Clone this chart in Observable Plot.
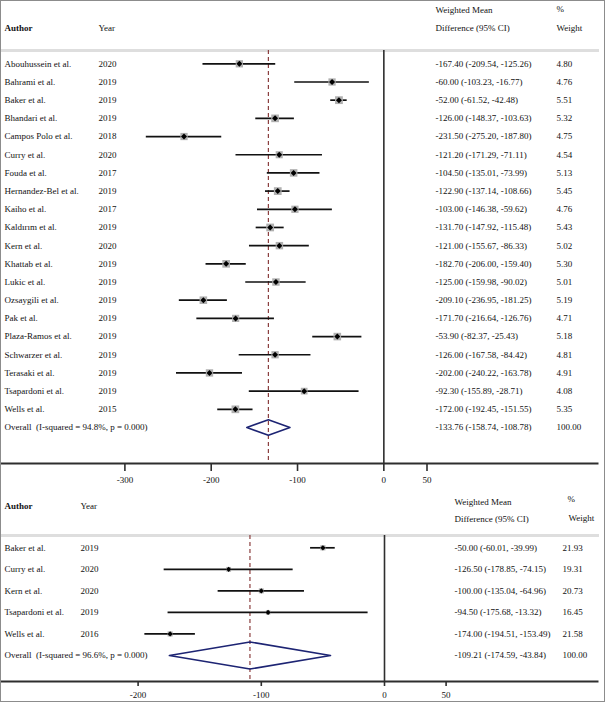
<!DOCTYPE html>
<html><head><meta charset="utf-8">
<script src="https://cdn.jsdelivr.net/npm/d3@7"></script>
<script src="https://cdn.jsdelivr.net/npm/@observablehq/plot@0.6"></script>
<style>
body{margin:0;background:#fff;}
#page{position:relative;width:605px;height:702px;overflow:hidden;background:#fff;}
#panel1,#panel2{position:absolute;left:0;}
#panel1{top:0;} #panel2{top:488px;}
#frame{position:absolute;left:0;top:0;width:605px;height:702px;box-sizing:border-box;border:1px solid #8c8c8c;pointer-events:none;}
</style></head><body>
<div id="page"><div id="panel1"></div><div id="panel2"></div><div id="frame"></div></div>
<script>
// ---- Panel 1 data ----
const authors1 = ["Abouhussein et al.","Bahrami et al.","Baker et al.","Bhandari et al.","Campos Polo et al.","Curry et al.","Fouda et al.","Hernandez-Bel et al.","Kaiho et al.","Kaldırım et al.","Kern et al.","Khattab et al.","Lukic et al.","Ozsaygili et al.","Pak et al.","Plaza-Ramos et al.","Schwarzer et al.","Terasaki et al.","Tsapardoni et al.","Wells et al."];
const years1 = [2020,2019,2019,2019,2018,2020,2017,2019,2017,2019,2020,2019,2019,2019,2019,2019,2019,2019,2019,2015];
const est1 = [-167.40,-60.00,-52.00,-126.00,-231.50,-121.20,-104.50,-122.90,-103.00,-131.70,-121.00,-182.70,-125.00,-209.10,-171.70,-53.90,-126.00,-202.00,-92.30,-172.00];
const lo1 = [-209.54,-103.23,-61.52,-148.37,-275.20,-171.29,-135.01,-137.14,-146.38,-147.92,-155.67,-206.00,-159.98,-236.95,-216.64,-82.37,-167.58,-240.22,-155.89,-192.45];
const hi1 = [-125.26,-16.77,-42.48,-103.63,-187.80,-71.11,-73.99,-108.66,-59.62,-115.48,-86.33,-159.40,-90.02,-181.25,-126.76,-25.43,-84.42,-163.78,-28.71,-151.55];
const weight1 = [4.80,4.76,5.51,5.32,4.75,4.54,5.13,5.45,4.76,5.43,5.02,5.30,5.01,5.19,4.71,5.18,4.81,4.91,4.08,5.35];
const overallLabel1 = "Overall\u00a0 (I-squared = 94.8%, p = 0.000)";
const overall1 = [-133.76, -158.74, -108.78, 100.00];
const ticks1 = [-300,-200,-100,0,50];

// ---- Panel 2 data ----
const authors2 = ["Baker et al.","Curry et al.","Kern et al.","Tsapardoni et al.","Wells et al."];
const years2 = [2019,2020,2020,2019,2016];
const est2 = [-50.00,-126.50,-100.00,-94.50,-174.00];
const lo2 = [-60.01,-178.85,-135.04,-175.68,-194.51];
const hi2 = [-39.99,-74.15,-64.96,-13.32,-153.49];
const weight2 = [21.93,19.31,20.73,16.45,21.58];
const overallLabel2 = "Overall\u00a0 (I-squared = 96.6%, p = 0.000)";
const overall2 = [-109.21, -174.59, -43.84, 100.00];
const ticks2 = [-200,-100,0,50];

const headWM = "Weighted Mean", headDiff = "Difference (95% CI)", headPct = "%", headW = "Weight", headA = "Author", headY = "Year";

const FONT = "Liberation Serif";
const fmt = v => v.toFixed(2);
const ML = 4; // left margin: text column start

function forest(o) {
  const rows = o.authors.map((a, i) => ({i, author: a, year: String(o.years[i]), est: o.est[i], lo: o.lo[i], hi: o.hi[i], w: o.weight[i]}));
  const n = rows.length;
  const [oe, ol, oh, ow] = o.overall;
  const all = [...rows, {i: n, author: o.overallLabel, year: "", est: oe, lo: ol, hi: oh, w: ow}];
  all.forEach(d => { d.ci = `${fmt(d.est)} (${fmt(d.lo)}, ${fmt(d.hi)})`; d.wt = fmt(d.w); });
  const h = o.diamondH;
  const diamond = [{x: ol, y: n}, {x: oe, y: n - h}, {x: oh, y: n}, {x: oe, y: n + h}, {x: ol, y: n}];
  const txt = {fontSize: 9, fill: "#111", textAnchor: "start", lineAnchor: "middle"};
  const head = (t, x, y, extra = {}) => Plot.text([t], {text: d => d, frameAnchor: "top-left", dx: x - ML, dy: y - o.marginTop, ...txt, ...extra});
  return Plot.plot({
    width: 605, height: o.height,
    marginLeft: ML, marginRight: 8, marginTop: o.marginTop, marginBottom: o.marginBottom,
    style: {fontFamily: FONT, fontSize: "9px", background: "white", color: "#111"},
    x: {domain: o.xDomain, range: o.xRange},
    y: {domain: [0, n], range: o.yRange, axis: null},
    r: {type: "sqrt", domain: [0, d3.max(o.weight)], range: [0, o.rMax]},
    marks: [
      Plot.frame({anchor: "top", stroke: "#dedede", strokeWidth: 3, insetLeft: -ML}),
      Plot.ruleX([0], {stroke: "#2e2e2e", strokeWidth: 1.6}),
      Plot.ruleX([oe], {stroke: "#8b3f3f", strokeWidth: 1.2, strokeDasharray: "4,3"}),
      Plot.ruleY(rows, {y: "i", x1: "lo", x2: "hi", stroke: "#111", strokeWidth: 1.7}),
      Plot.dot(rows, {x: "est", y: "i", r: "w", symbol: "square", fill: "#b0b0b0"}),
      Plot.dot(rows, {x: "est", y: "i", r: o.dotR, symbol: "diamond2", fill: "#000"}),
      Plot.line(diamond, {x: "x", y: "y", stroke: "#1d2473", strokeWidth: 1.6, fill: "none"}),
      Plot.text(all, {y: "i", text: "author", frameAnchor: "left", ...txt}),
      Plot.text(all, {y: "i", text: "year", frameAnchor: "left", dx: o.cols[1] - ML, ...txt}),
      Plot.text(all, {y: "i", text: "ci", frameAnchor: "left", dx: o.cols[2] - ML, ...txt}),
      Plot.text(all, {y: "i", text: "wt", frameAnchor: "left", dx: o.cols[3] - ML, ...txt}),
      head(headA, ML, o.hA[1], {fontWeight: "bold"}),
      head(headY, o.hY[0], o.hY[1]),
      head(headWM, o.hWM[0], o.hWM[1]),
      head(headDiff, o.hD[0], o.hD[1]),
      head(headPct, o.hP[0], o.hP[1]),
      head(headW, o.hW[0], o.hW[1]),
      Plot.frame({anchor: "bottom", stroke: "#2e2e2e", strokeWidth: 2, insetLeft: -ML}),
      Plot.axisX({ticks: o.ticks, tickFormat: d => String(d), tickSize: o.tickSize, tickPadding: o.tickPadding, label: null, fontSize: 9, stroke: "#2e2e2e", strokeWidth: 1.6, fill: "#111"})
    ]
  });
}

const chart1 = forest({
  authors: authors1, years: years1, est: est1, lo: lo1, hi: hi1, weight: weight1,
  overall: overall1, overallLabel: overallLabel1, ticks: ticks1,
  xDomain: [-300, 50], xRange: [124.4, 426.5], yRange: [63.3, 427],
  height: 488, marginTop: 50, marginBottom: 25, rMax: 4.4, dotR: 2.7, diamondH: 0.43,
  tickSize: 8, tickPadding: 5,
  cols: [ML, 98, 435, 556],
  hA: [ML, 28], hY: [98, 28], hWM: [435, 9.5], hD: [435, 28], hP: [556, 9], hW: [556, 28]
});
document.getElementById("panel1").append(chart1);

const chart2 = forest({
  authors: authors2, years: years2, est: est2, lo: lo2, hi: hi2, weight: weight2,
  overall: overall2, overallLabel: overallLabel2, ticks: ticks2,
  xDomain: [-200, 50], xRange: [137.6, 445.6], yRange: [59.3, 167],
  height: 214, marginTop: 47, marginBottom: 21, rMax: 2.9, dotR: 2.4, diamondH: 0.63,
  tickSize: 5, tickPadding: 5,
  cols: [ML, 80, 454, 562],
  hA: [ML, 18], hY: [80, 18], hWM: [454, 14], hD: [454, 31], hP: [567, 11], hW: [568, 30]
});
document.getElementById("panel2").append(chart2);
</script>
</body></html>
